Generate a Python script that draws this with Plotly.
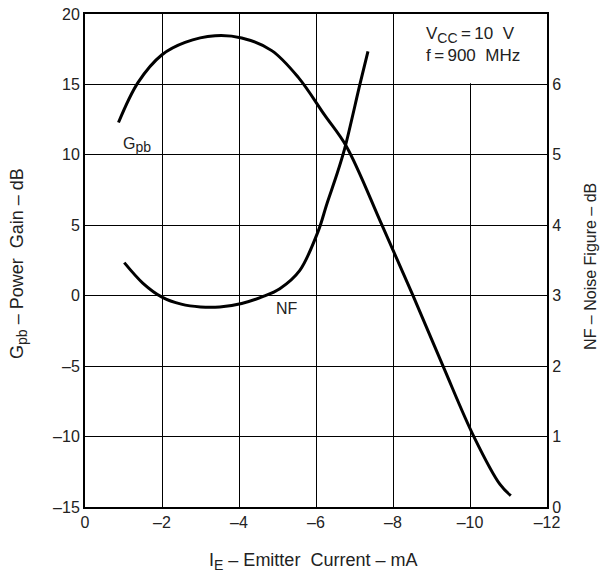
import plotly.graph_objects as go

# Data
gpb_x = [-0.87, -1.38, -2.0, -2.6, -3.38, -4.07, -4.85, -5.54, -6.23, -6.79, -7.7, -8.52, -9.3, -10.1, -10.78, -11.06]
gpb_y = [12.3, 15.15, 17.11, 17.99, 18.46, 18.3, 17.4, 15.5, 12.8, 10.6, 5.1, 0.0, -5.0, -10.0, -13.4, -14.2]

nf_x = [-1.02, -1.5, -2.0, -2.5, -3.0, -3.5, -4.07, -4.63, -5.06, -5.58, -6.06, -6.28, -6.54, -6.75, -7.14, -7.35]
nf_y = [3.47, 3.18, 2.98, 2.88, 2.84, 2.84, 2.89, 2.99, 3.10, 3.36, 3.92, 4.30, 4.72, 5.10, 6.0, 6.47]

x_ticks = [0, -2, -4, -6, -8, -10, -12]
y_ticks = [-15, -10, -5, 0, 5, 10, 15, 20]
y2_ticks = [0, 1, 2, 3, 4, 5, 6]

FONT = "Liberation Sans, Arial, sans-serif"
TXT = "#222"
NB = "\u00a0"
THIN = "\u2009"
DASH = NB + "\u2013" + NB


def sub(s, size=12):
    return f"<sub><span style='font-size:{size}px'>{s}</span></sub>"


def neg(v):
    return "0" if v == 0 else (f"\u2013{abs(v)}" if v < 0 else str(v))


fig = go.Figure()
fig.add_trace(go.Scatter(x=gpb_x, y=gpb_y, mode="lines",
                         line=dict(color="black", width=3, shape="spline", smoothing=1.0),
                         showlegend=False, hoverinfo="skip"))
fig.add_trace(go.Scatter(x=nf_x, y=nf_y, mode="lines",
                         line=dict(color="black", width=3, shape="spline", smoothing=0.9),
                         yaxis="y2", showlegend=False, hoverinfo="skip"))

fig.update_layout(
    width=602, height=578,
    margin=dict(l=85, r=55, t=14, b=71),
    paper_bgcolor="white", plot_bgcolor="white",
    font=dict(family=FONT, size=16, color=TXT),
    xaxis=dict(range=[0, -12], tickvals=x_ticks, ticktext=[neg(v) for v in x_ticks],
               showgrid=True, gridcolor="black", gridwidth=1,
               showline=True, linecolor="black", linewidth=2, mirror=True,
               ticks="", zeroline=False, automargin=False),
    yaxis=dict(range=[-15, 20], tickvals=y_ticks, ticktext=[neg(v) for v in y_ticks],
               showgrid=True, gridcolor="black", gridwidth=1,
               showline=True, linecolor="black", linewidth=2,
               ticks="", zeroline=False, automargin=False),
    yaxis2=dict(range=[0, 7], tickvals=y2_ticks, overlaying="y", side="right",
                showgrid=False, showline=True, linecolor="black", linewidth=2,
                ticks="", zeroline=False, automargin=False),
)

# Axis titles placed as annotations (matching reference positions)
fig.add_annotation(xref="paper", yref="paper", x=0.4935, y=0, yshift=-54, xanchor="center", yanchor="middle",
                   text="I" + sub("E", 14) + DASH + "Emitter" + NB + NB + "Current" + DASH + "mA",
                   showarrow=False, font=dict(size=18, color=TXT))
fig.add_annotation(xref="paper", yref="paper", x=0, xshift=-66, y=0.493, xanchor="center", yanchor="middle",
                   textangle=-90,
                   text="G" + sub("pb", 14) + DASH + "Power" + NB + NB + "Gain" + DASH + "dB",
                   showarrow=False, font=dict(size=18, color=TXT))
fig.add_annotation(xref="paper", yref="paper", x=1, xshift=44, y=0.487, xanchor="center", yanchor="middle",
                   textangle=-90,
                   text="NF" + DASH + "Noise" + NB + "Figure" + DASH + "dB",
                   showarrow=False, font=dict(size=16, color=TXT))

fig.add_shape(type="rect", xref="x", yref="y", x0=-8.04, x1=-12, y0=15.08, y1=20,
              fillcolor="white", line=dict(width=0), layer="between")

fig.add_annotation(x=-8.8, y=17.8, xref="x", yref="y", xanchor="left", yanchor="middle",
                   text="V" + sub("CC", 14) + THIN + "=" + THIN + "10" + NB + NB + "V<br>f" + THIN + "=" + THIN
                        + "900" + NB + NB + "MHz",
                   showarrow=False, align="left", font=dict(size=17, color=TXT))
fig.add_annotation(x=-1.35, y=10.7, xref="x", yref="y", text="G" + sub("pb", 14), showarrow=False,
                   font=dict(size=16, color=TXT))
fig.add_annotation(x=-5.25, y=-0.9, xref="x", yref="y", text="NF", showarrow=False,
                   font=dict(size=16, color=TXT))

fig.write_html("out.html")
